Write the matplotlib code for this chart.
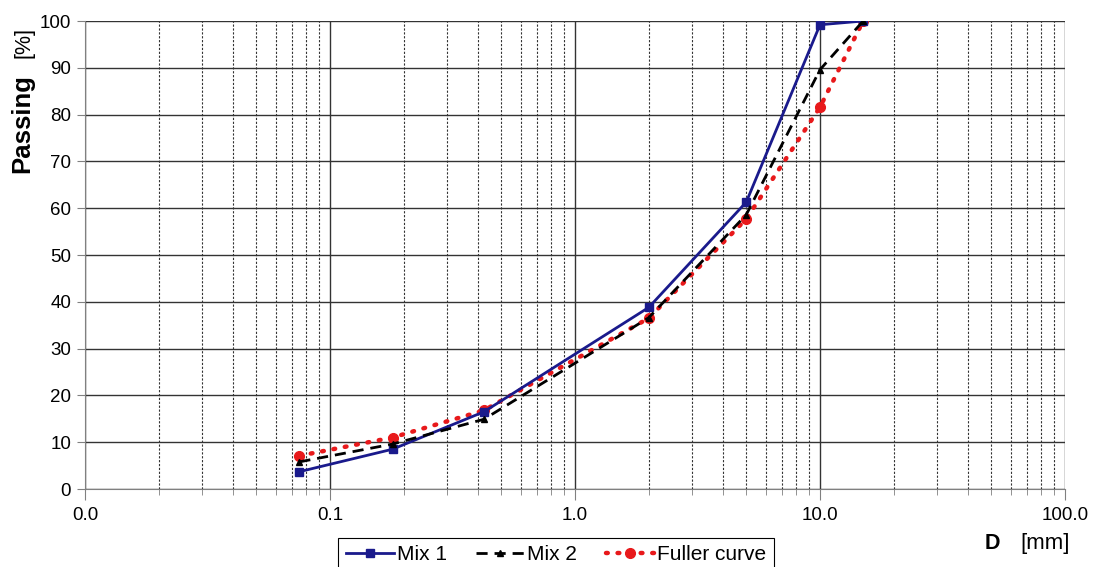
import matplotlib
matplotlib.use("Agg")
import matplotlib.pyplot as plt
from matplotlib.ticker import FixedLocator, LogLocator, NullFormatter

plt.rcParams['font.family'] = ['Liberation Sans', 'DejaVu Sans']

# sieve sizes [mm]
sieve = [0.075, 0.18, 0.425, 2.0, 5.0, 10.0, 15.0]
mix1 = [3.7, 8.5, 16.5, 38.8, 61.3, 99.2, 100.0]
mix2 = [5.8, 9.6, 14.9, 36.6, 58.6, 89.6, 100.0]
fuller = [7.1, 11.0, 16.8, 36.5, 57.7, 81.6, 100.0]

x_ticks = [0.01, 0.1, 1, 10, 100]
x_labels = ["0.0", "0.1", "1.0", "10.0", "100.0"]
y_ticks = list(range(0, 101, 10))

W, H = 1094, 567
fig = plt.figure(figsize=(W / 100, H / 100), dpi=100)
ax = fig.add_axes([85 / W, 78 / H, 980 / W, 468 / H])

ax.plot(sieve, mix1, color='#1a1a8c', lw=2, marker='s', ms=6, label='Mix 1', zorder=4)
ax.plot(sieve, mix2, color='black', lw=2, ls=(0, (4, 2.5)), marker='^', ms=5, label='Mix 2', zorder=5)
ax.plot(sieve, fuller, color='#e8191b', lw=3.2, ls=(0, (0.4, 2.2)), dash_capstyle='round',
        marker='o', ms=7, label='Fuller curve', zorder=3)

ax.set_xscale('log')
ax.set_xlim(0.01, 100)
ax.set_ylim(0, 100)
ax.xaxis.set_major_locator(FixedLocator(x_ticks))
ax.set_xticklabels(x_labels)
ax.xaxis.set_minor_locator(LogLocator(base=10, subs=range(2, 10)))
ax.xaxis.set_minor_formatter(NullFormatter())
ax.set_yticks(y_ticks)

ax.grid(which='major', axis='both', color='#333333', lw=1, ls='-')
ax.grid(which='minor', axis='x', color='#333333', lw=0.8, ls=(0, (2, 1.5)))
ax.set_axisbelow(True)

for s in ['top', 'right']:
    ax.spines[s].set_visible(False)
for s in ['left', 'bottom']:
    ax.spines[s].set_color('#808080')

ax.tick_params(axis='both', which='major', labelsize=13.5, direction='out', length=8, color='#808080')
ax.tick_params(axis='x', which='minor', direction='out', length=4, color='#808080')
ax.tick_params(axis='x', which='major', pad=5)
ax.tick_params(axis='y', which='major', length=6, pad=4)

# axis titles, bold name + normal unit
fig.text(22 / W, 1 - 173 / H, 'Passing', rotation=90, ha='center', va='bottom',
         fontsize=18.5, fontweight='bold')
fig.text(24 / W, 1 - 58 / H, '[%]', rotation=90, ha='center', va='bottom', fontsize=15.5)
fig.text(985 / W, 1 - 549 / H, 'D', ha='left', va='baseline', fontsize=15.5, fontweight='bold')
fig.text(1070 / W, 1 - 549 / H, '[mm]', ha='right', va='baseline', fontsize=16)

leg = fig.legend(loc='upper center', bbox_to_anchor=(556 / W, 1 - 538 / H), ncol=3,
                 fontsize=15, frameon=True, fancybox=False, framealpha=1,
                 edgecolor='black', handlelength=2.3, columnspacing=1.4, handletextpad=0.15,
                 borderpad=0.35, borderaxespad=0)
leg.get_frame().set_linewidth(0.8)

fig.savefig('out.png', dpi=100)
